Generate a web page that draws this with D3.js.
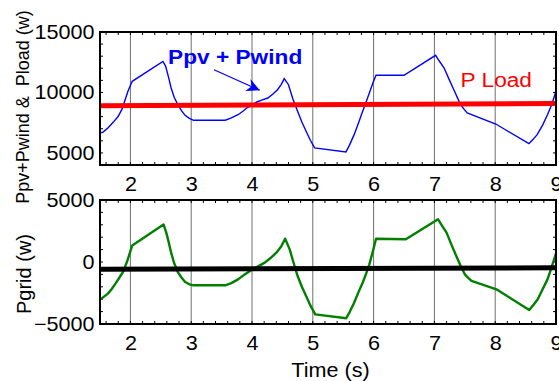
<!DOCTYPE html>
<html>
<head>
<meta charset="utf-8">
<script src="https://cdn.jsdelivr.net/npm/d3@7"></script>
<style>
	body { margin: 0; background: #fff; }
	svg { display: block; font-family: "Liberation Sans", Arial, sans-serif; }
</style>
</head>
<body>
<script>
// time axis (s)
var timeTicks = [2, 3, 4, 5, 6, 7, 8, 9];

// Ppv + Pwind (w)
var pvwT = [1.51, 1.55, 1.63, 1.72, 1.80, 1.86, 1.905, 1.96, 2.03, 2.535, 2.58, 2.63, 2.67, 2.72, 2.78, 2.84, 2.90, 2.97, 3.04,
	3.56, 3.66, 3.77, 3.85, 3.93, 4.0, 4.08, 4.17, 4.26, 4.34, 4.42, 4.48, 4.53,
	4.60, 4.67, 4.75, 4.82, 4.89, 4.96, 5.03, 5.545, 5.60, 5.68, 5.75, 5.82, 5.88, 5.93, 5.99, 6.04, 6.50,
	7.02, 7.08, 7.16, 7.24, 7.32, 7.38, 7.43, 7.49, 7.54, 8.01, 8.555, 8.62, 8.69, 8.78, 8.86, 8.93, 8.99];
var pvwP = [6650, 6720, 7060, 7550, 8030, 8600, 9270, 10100, 10920, 12570, 12160, 11200, 10370, 9600, 8990, 8500, 8110, 7860, 7700,
	7700, 7900, 8160, 8450, 8770, 9000, 9210, 9380, 9540, 9850, 10230, 10650, 11140,
	10640, 9500, 8440, 7550, 6790, 6050, 5410, 5080, 5600, 6510, 7450, 8440, 9250, 9960, 10800, 11420, 11420,
	13070, 12600, 12020, 11100, 10230, 9550, 8990, 8600, 8300, 7390, 5760, 6100, 6510, 7300, 8160, 9000, 9960];

// P Load (w)
var loadT = [1.5, 9];
var loadP = [8900, 9080];

// Pgrid (w)
var gridT = [1.51, 1.55, 1.63, 1.69, 1.76, 1.82, 1.88, 1.95, 2.03, 2.545, 2.59, 2.63, 2.67, 2.72, 2.78, 2.84, 2.90, 2.97, 3.04,
	3.56, 3.66, 3.77, 3.88, 3.99, 4.10, 4.21, 4.30, 4.40, 4.48, 4.545,
	4.62, 4.68, 4.75, 4.82, 4.89, 4.96, 5.04, 5.55, 5.61, 5.68, 5.75, 5.82, 5.88, 5.93, 5.99, 6.04, 6.53,
	7.06, 7.13, 7.20, 7.28, 7.36, 7.43, 7.50, 7.56, 7.61, 8.02, 8.56, 8.63, 8.70, 8.78, 8.86, 8.93, 9.0];
var gridP = [-3010, -2850, -2550, -2200, -1700, -1250, -800, 100, 1340, 3030, 2370, 1600, 750, -100, -810, -1250, -1610, -1800, -1880,
	-1880, -1700, -1400, -1000, -645, -350, -50, 300, 750, 1250, 1880,
	1020, 0, -1130, -2000, -2740, -3500, -4220, -4540, -4000, -3280, -2450, -1670, -900, -190, 900, 1880, 1830,
	3440, 2900, 2370, 1400, 480, -300, -995, -1300, -1530, -2200, -3870, -3450, -3010, -2200, -1400, -400, 700];

// mean grid level (w)
var meanT = [1.5, 9];
var meanP = [-590, -470];

var topTicks = [5000, 10000, 15000];
var botTicks = [-5000, 0, 5000];

// annotations [time, value]
var pvwLabel = [2.62, 12330];
var arrowFrom = [3.375, 11880];
var arrowTo = [4.127, 10180];
var loadLabel = [7.43, 10480];

var width = 559, height = 381;
var left = 100, right = 556;
var stretch = 1.08;

var svg = d3.select("body").append("svg")
	.attr("width", width)
	.attr("height", height);

svg.append("defs").append("marker")
	.attr("id", "head")
	.attr("viewBox", "0 0 10 10")
	.attr("refX", 10)
	.attr("refY", 5)
	.attr("markerUnits", "userSpaceOnUse")
	.attr("markerWidth", 22)
	.attr("markerHeight", 13)
	.attr("orient", "auto")
	.append("path")
	.attr("d", "M0,0L10,5L0,10L3,5Z")
	.attr("fill", "#0000ff");

var x = d3.scaleLinear().domain([1.5, 9]).range([left, right]);

function panel(top, bottom, domain, yTicks) {
	var y = d3.scaleLinear().domain(domain).range([bottom, top]);
	var g = svg.append("g");

	// vertical grid
	g.append("g")
		.selectAll("line")
		.data(timeTicks.filter(d => d < 9))
		.enter()
		.append("line")
		.attr("x1", d => x(d)).attr("x2", d => x(d))
		.attr("y1", top).attr("y2", bottom)
		.attr("stroke", "#6e6e6e")
		.attr("stroke-width", 1);

	// small inward ticks on all four sides
	var xm = d3.range(16, 91, 2).map(d => d / 10);
	var ym = d3.range(domain[0], domain[1] + 1, 1000);
	var tk = g.append("g").attr("stroke", "#000").attr("stroke-width", 1);
	xm.forEach(function (d) {
		tk.append("line").attr("x1", x(d)).attr("x2", x(d)).attr("y1", bottom).attr("y2", bottom - 3);
		tk.append("line").attr("x1", x(d)).attr("x2", x(d)).attr("y1", top).attr("y2", top + 3);
	});
	ym.forEach(function (d) {
		tk.append("line").attr("x1", left).attr("x2", left + 3).attr("y1", y(d)).attr("y2", y(d));
		tk.append("line").attr("x1", right).attr("x2", right - 3).attr("y1", y(d)).attr("y2", y(d));
	});

	// tick labels
	var ax = g.append("g")
		.attr("transform", "translate(0," + bottom + ")")
		.call(d3.axisBottom(x).tickValues(timeTicks).tickSize(0).tickPadding(12).tickFormat(d3.format("d")));
	var ay = g.append("g")
		.attr("transform", "translate(" + left + ",0)")
		.call(d3.axisLeft(y).tickValues(yTicks).tickSize(0).tickPadding(5).tickFormat(d3.format("d")));
	[ax, ay].forEach(function (a) {
		a.select(".domain").remove();
		a.selectAll("text")
			.attr("font-size", 20)
			.attr("font-family", "'Liberation Sans', Arial, sans-serif")
			.attr("fill", "#000")
			.attr("transform", "scale(" + stretch + ",1)");
	});

	return { g: g, y: y, top: top, bottom: bottom };
}

var p1 = panel(32, 165, [4000, 15000], topTicks);
var p2 = panel(200, 324, [-5000, 5000], botTicks);

var line1 = d3.line().x(d => x(d[0])).y(d => p1.y(d[1]));
var line2 = d3.line().x(d => x(d[0])).y(d => p2.y(d[1]));

p1.g.append("path")
	.datum(d3.zip(pvwT, pvwP))
	.attr("d", line1)
	.attr("fill", "none")
	.attr("stroke", "#0000ff")
	.attr("stroke-width", 1.4);

p1.g.append("path")
	.datum(d3.zip(loadT, loadP))
	.attr("d", line1)
	.attr("fill", "none")
	.attr("stroke", "#ff0000")
	.attr("stroke-width", 5);

p2.g.append("path")
	.datum(d3.zip(gridT, gridP))
	.attr("d", line2)
	.attr("fill", "none")
	.attr("stroke", "#008000")
	.attr("stroke-width", 2.4)
	.attr("stroke-linejoin", "round");

p2.g.append("path")
	.datum(d3.zip(meanT, meanP))
	.attr("d", line2)
	.attr("fill", "none")
	.attr("stroke", "#000")
	.attr("stroke-width", 5);

// frames
[p1, p2].forEach(function (p) {
	p.g.append("rect")
		.attr("x", left).attr("y", p.top)
		.attr("width", right - left).attr("height", p.bottom - p.top)
		.attr("fill", "none")
		.attr("stroke", "#000")
		.attr("stroke-width", 2);
});

// annotations
p1.g.append("text")
	.attr("transform", "translate(" + x(pvwLabel[0]) + "," + p1.y(pvwLabel[1]) + ") scale(" + stretch + ",1)")
	.attr("font-size", 21)
	.attr("font-weight", "bold")
	.attr("fill", "#0000ff")
	.text("Ppv + Pwind");

p1.g.append("line")
	.attr("x1", x(arrowFrom[0])).attr("y1", p1.y(arrowFrom[1]))
	.attr("x2", x(arrowTo[0])).attr("y2", p1.y(arrowTo[1]))
	.attr("stroke", "#0000ff")
	.attr("stroke-width", 1.3)
	.attr("marker-end", "url(#head)");

p1.g.append("text")
	.attr("transform", "translate(" + x(loadLabel[0]) + "," + p1.y(loadLabel[1]) + ") scale(" + stretch + ",1)")
	.attr("font-size", 21)
	.attr("fill", "#ff0000")
	.text("P Load");

// axis titles
svg.append("text")
	.attr("transform", "translate(28.5," + ((p1.top + p1.bottom) / 2 + 8.5) + ") rotate(-90)")
	.attr("text-anchor", "middle")
	.attr("font-size", 18)
	.attr("fill", "#000")
	.style("white-space", "pre")
	.text("Ppv+Pwind &  Pload (w)");

svg.append("text")
	.attr("transform", "translate(30.5," + ((p2.top + p2.bottom) / 2 + 12) + ") rotate(-90)")
	.attr("text-anchor", "middle")
	.attr("font-size", 20)
	.attr("fill", "#000")
	.text("Pgrid (w)");

svg.append("text")
	.attr("transform", "translate(" + ((left + right) / 2 + 2.5) + ",376.5) scale(" + stretch + ",1)")
	.attr("text-anchor", "middle")
	.attr("font-size", 20)
	.attr("fill", "#000")
	.text("Time (s)");
</script>
</body>
</html>
